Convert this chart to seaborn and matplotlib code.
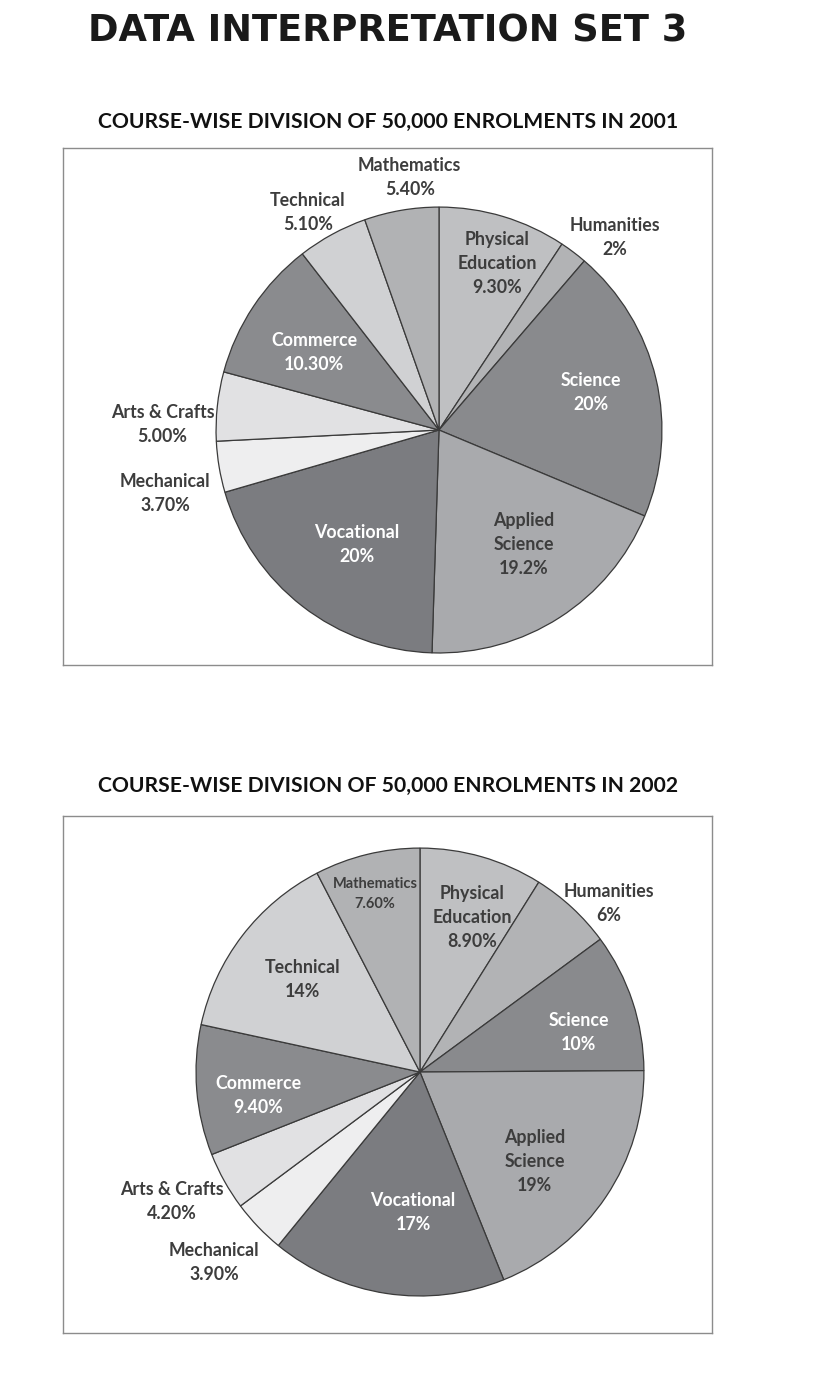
import numpy as np
import seaborn as sns
import matplotlib.pyplot as plt

sns.set_style("white")
plt.rcParams['font.family'] = ['Lato', 'DejaVu Sans']

# data
courses = ["Physical\nEducation", "Humanities", "Science", "Applied\nScience", "Vocational",
           "Mechanical", "Arts & Crafts", "Commerce", "Technical", "Mathematics"]
share_2001 = [9.3, 2, 20, 19.2, 20, 3.7, 5.0, 10.3, 5.1, 5.4]
share_2002 = [8.9, 6, 10, 19, 17, 3.9, 4.2, 9.4, 14, 7.6]
text_2001 = ["9.30%", "2%", "20%", "19.2%", "20%", "3.70%", "5.00%", "10.30%", "5.10%", "5.40%"]
text_2002 = ["8.90%", "6%", "10%", "19%", "17%", "3.90%", "4.20%", "9.40%", "14%", "7.60%"]

# style
slice_colors = ["#bfc0c2", "#b2b3b5", "#898a8d", "#a9aaad", "#7b7c80",
                "#eeeeef", "#e1e1e3", "#8a8b8e", "#d0d1d3", "#b1b2b4"]
label_colors = ["#3d3d3d", "#3d3d3d", "white", "#3d3d3d", "white",
                "#3d3d3d", "#3d3d3d", "white", "#3d3d3d", "#3d3d3d"]
# label placement: radius (in pie radii) and angle shift from slice middle (deg)
dist_2001 = [0.79, 1.17, 0.70, 0.64, 0.63, 1.26, 1.24, 0.66, 1.14, 1.14]
shift_2001 = [-2.6, -5.3, 0.5, 3.7, 2.1, 3.5, 4.9, 1.7, 2.4, -3.1]
dist_2002 = [0.73, 1.13, 0.73, 0.65, 0.63, 1.25, 1.25, 0.73, 0.67, 0.82]
shift_2002 = [-2.7, -5.4, -4.2, -4.2, 5.8, -1.0, -1.5, 3.4, -0.8, 0.5]

W, H = 816, 1378
fig = plt.figure(figsize=(W / 100, H / 100), dpi=100)


def draw_pie(box, lims, values, pct, dist, shift, small=None):
    x0, y0, x1, y1 = box
    ax = fig.add_axes([x0 / W, 1 - y1 / H, (x1 - x0) / W, (y1 - y0) / H])
    wedges, _ = ax.pie(values, colors=slice_colors, startangle=90, counterclock=False,
                       wedgeprops=dict(edgecolor="#3a3a3a", linewidth=0.9))
    for i, w in enumerate(wedges):
        ang = np.deg2rad((w.theta1 + w.theta2) / 2 + shift[i])
        r = dist[i]
        fs = 10.5 if i == small else 12.8
        ax.text(r * np.cos(ang), r * np.sin(ang), courses[i] + "\n" + pct[i],
                ha="center", va="center", fontsize=fs, fontweight="bold",
                color=label_colors[i], linespacing=1.5)
    ax.set_xlim(lims[0])
    ax.set_ylim(lims[1])
    ax.set_aspect("equal")
    ax.set_xticks([])
    ax.set_yticks([])
    ax.set_frame_on(True)
    for s in ax.spines.values():
        s.set_visible(True)
        s.set_color("#8c8c8c")
        s.set_linewidth(1.0)
    return ax


draw_pie((63, 148, 712, 665), ((-1.686, 1.224), (-1.054, 1.265)),
         share_2001, text_2001, dist_2001, shift_2001)
draw_pie((63, 816, 712, 1333), ((-1.594, 1.304), (-1.165, 1.143)),
         share_2002, text_2002, dist_2002, shift_2002, small=9)

fig.text(388 / W, 1 - 31 / H, "DATA INTERPRETATION SET 3", ha="center", va="center",
         fontsize=26.5, fontweight="bold", color="#1a1a1a", family="DejaVu Sans")
fig.text(388 / W, 1 - 122 / H, "COURSE-WISE DIVISION OF 50,000 ENROLMENTS IN 2001",
         ha="center", va="center", fontsize=15.2, fontweight="bold", color="#111111")
fig.text(388 / W, 1 - 786 / H, "COURSE-WISE DIVISION OF 50,000 ENROLMENTS IN 2002",
         ha="center", va="center", fontsize=15.2, fontweight="bold", color="#111111")

fig.savefig("out.png", dpi=100, facecolor="white")
